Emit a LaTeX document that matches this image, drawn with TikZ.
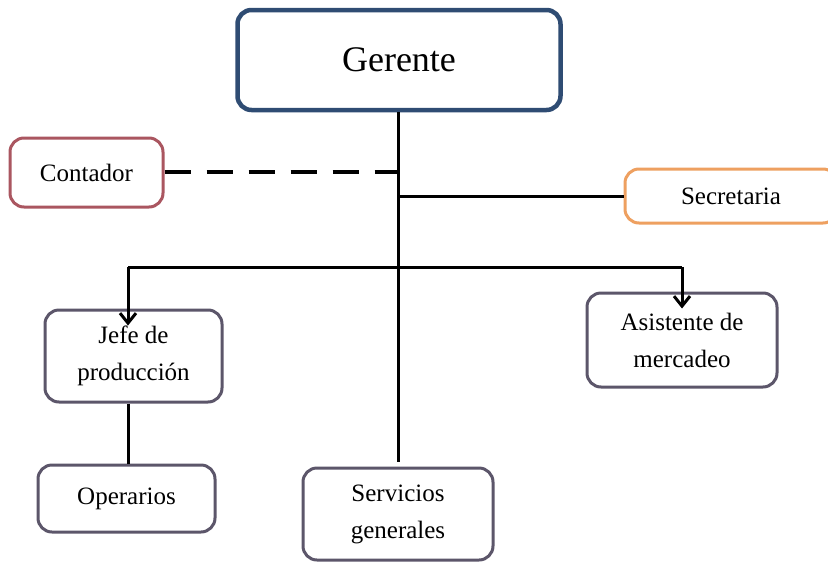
\documentclass[tikz,border=0pt]{standalone}
\usepackage{fontspec}
\setmainfont{Liberation Serif}
\usetikzlibrary{arrows.meta,calc}
\definecolor{gerenteblue}{RGB}{47,76,115}
\definecolor{contadorred}{RGB}{170,86,96}
\definecolor{secorange}{RGB}{238,160,96}
\definecolor{boxgray}{RGB}{92,86,106}

\begin{document}
\begin{tikzpicture}[x=1pt,y=-1pt]
	\path [use as bounding box] (0,0) rectangle (828,563);
	\tikzstyle{cargo} = [draw=boxgray, line width=3pt, rounded corners=14pt, align=center, fill=white, font=\fontsize{25}{37}\selectfont]
	\tikzstyle{link} = [line width=3pt, black]
	\tikzstyle{down} = [link, -{Straight Barb[length=10pt,width=16pt,line width=3pt]}, shorten >= -17pt]
	\node[cargo, draw=gerenteblue, line width=4.5pt, minimum width=323pt, minimum height=100pt, font=\fontsize{36}{40}\selectfont] (gerente) at (399,60) {Gerente};
	\node[cargo, draw=contadorred, minimum width=153pt, minimum height=69pt] (contador) at (86.5,172.5) {Contador};
	\node[cargo, draw=secorange, minimum width=212pt, minimum height=54pt] (secretaria) at (731,196) {Secretaria};
	\node[cargo, minimum width=177pt, minimum height=92pt] (jefe) at (133.5,356) {Jefe de\\producción};
	\node[cargo, minimum width=177pt, minimum height=67pt] (operarios) at (126.5,498.5) {Operarios};
	\node[cargo, minimum width=190pt, minimum height=92pt] (servicios) at (398,514) {Servicios\\generales};
	\node[cargo, minimum width=190pt, minimum height=94pt] (asistente) at (682,340) {Asistente de\\mercadeo};
	\coordinate (conJ) at (398,172);
	\coordinate (secJ) at (398,196);
	\coordinate (busL) at (128,267);
	\coordinate (busR) at (682,267);
	\draw[link] (gerente.south -| conJ) -- ($(servicios.north -| conJ)+(0,-5)$);
	\draw[link, line width=4pt, dash pattern=on 26pt off 16pt] (contador.east |- conJ) -- (conJ);
	\draw[link] (secJ) -- (secretaria.west |- secJ);
	\draw[link] (busL) -- (busR);
	\draw[down] (busL) -- (busL |- jefe.north);
	\draw[down] (busR) -- (busR |- asistente.north);
	\draw[link] (jefe.south -| busL) -- (operarios.north -| busL);
\end{tikzpicture}
\end{document}
